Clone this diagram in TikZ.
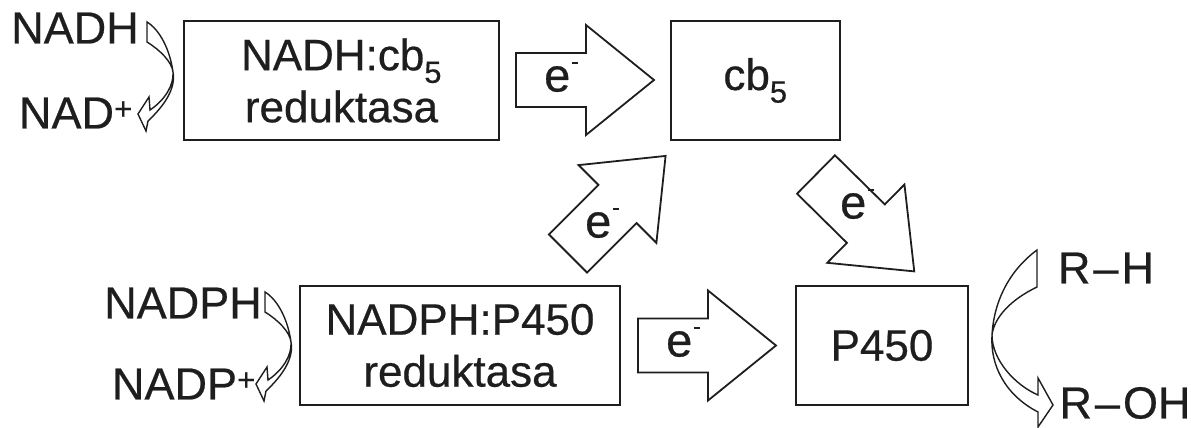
\documentclass[tikz,border=0pt]{standalone}
\usepackage{fontspec}
\setmainfont{Liberation Sans}[UprightFeatures={FakeBold=0.5}]
\definecolor{ink}{HTML}{1E1E1E}
\newcommand{\eminus}{e\kern1.5pt\raisebox{27pt}{\rule{6pt}{2.4pt}}}
\begin{document}
\begin{tikzpicture}[x=1pt,y=-1pt,line width=1.8pt,draw=ink,text=ink,
  box/.style={draw=ink,line width=1.8pt,inner sep=0pt,align=center,
    font=\fontsize{44}{52}\selectfont},
  lbl/.style={inner sep=0pt,font=\fontsize{45}{52}\selectfont},
  elbl/.style={inner sep=0pt,font=\fontsize{47}{52}\selectfont},
  ribbon/.style={draw=ink,line width=1.4pt,fill=white,line join=miter},
  fatarrow/.pic={\draw[ink,line width=1.8pt,line join=miter,fill=white]
    (0,-27) -- (70,-27) -- (70,-55) -- (138,0) -- (70,55) -- (70,27) -- (0,27) -- cycle;}]
\useasboundingbox (0,0) rectangle (1191,428);

% enzyme boxes
\node[box,minimum width=315pt,minimum height=119pt] (red1) at (341.5,80.5)
  {NADH:cb\textsubscript{5}\\reduktasa};
\node[box,minimum width=169pt,minimum height=119pt] (cb5) at (755.5,80.5)
  {cb\textsubscript{5}};
\node[box,minimum width=320pt,minimum height=119pt] (red2) at (460,345.5)
  {NADPH:P450\\reduktasa};
\node[box,minimum width=172pt,minimum height=119pt] (p450) at (882,345.5)
  {P450};

% electron transfer arrows
\pic at (516,80) {fatarrow};
\pic at (638,345.5) {fatarrow};
\pic[rotate=45] at (568,253.5) {fatarrow};
\pic[rotate=-44.6] at (816,174.5) {fatarrow};
\node[elbl] (e1) at (561,77) {\eminus};
\node[elbl] (e2) at (683,342) {\eminus};
\node[elbl] (e3) at (602,223) {\eminus};
\node[elbl] (e4) at (857,204) {\eminus};

% cofactors
\node[lbl] (nadh) at (75,28) {NADH};
\node[lbl] (nad) at (76,113) {NAD\textsuperscript{+}};
\node[lbl] (nadph) at (183,303) {NADPH};
\node[lbl] (nadp) at (184,384) {NADP\textsuperscript{+}};
\node[lbl] (rh) at (1106,268) {R\kern3pt–\kern3pt H};
\node[lbl] (roh) at (1125,403) {R\kern3pt–\kern3pt OH};

% twisted ribbon arrows
\draw[ribbon] (147,22) -- (147,42) .. controls (160,50) and (172,62) .. (173,72)
  .. controls (174,85) and (165,100) .. (150,110) -- (149,97) -- (138,114)
  -- (146,131) -- (148,121) .. controls (165,105) and (176,88) .. (173,72)
  .. controls (170,50) and (160,30) .. (147,22) -- cycle;
\begin{scope}[shift={(118,270)}]
\draw[ribbon] (147,22) -- (147,42) .. controls (160,50) and (172,62) .. (173,72)
  .. controls (174,85) and (165,100) .. (150,110) -- (149,97) -- (138,114)
  -- (146,131) -- (148,121) .. controls (165,105) and (176,88) .. (173,72)
  .. controls (170,50) and (160,30) .. (147,22) -- cycle;
\end{scope}
\draw[ribbon] (1037,250) -- (1037,287) .. controls (1010,300) and (994,318) .. (992,335)
  .. controls (992,360) and (1015,385) .. (1038,395) -- (1038,378) -- (1053,405)
  -- (1038,427) -- (1038,412) .. controls (1005,395) and (990,365) .. (992,335)
  .. controls (994,300) and (1010,270) .. (1037,250) -- cycle;
\end{tikzpicture}
\end{document}
